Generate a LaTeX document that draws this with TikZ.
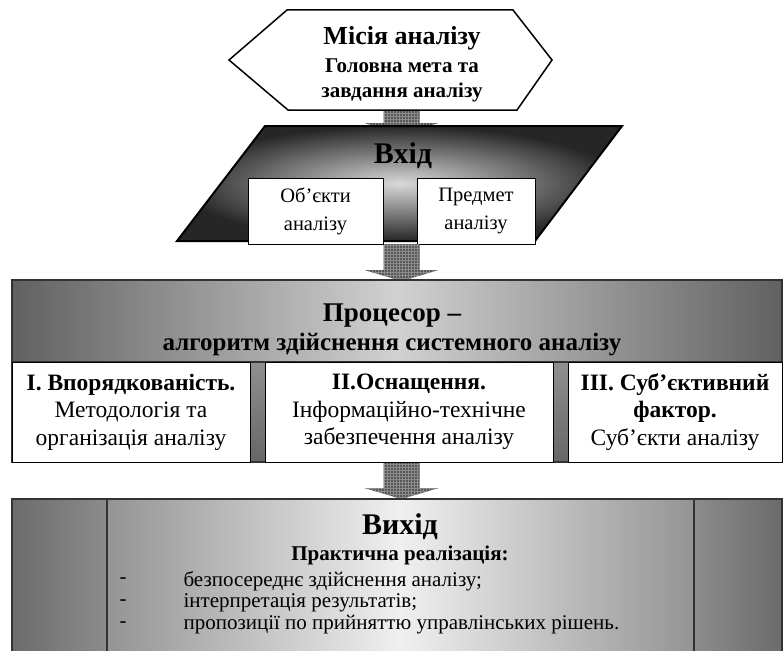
\documentclass[tikz,border=0pt]{standalone}
\usepackage{fontspec}
\setmainfont{Liberation Serif}
\usetikzlibrary{calc,patterns}

\tikzset{
  bigtitle/.style={font=\bfseries\fontsize{27}{29}\selectfont},
  subtitle/.style={font=\bfseries\fontsize{21}{25}\selectfont, align=center},
  bodytext/.style={font=\fontsize{21}{24}\selectfont, align=center},
  boxtext/.style={font=\fontsize{23.5}{27.5}\selectfont, align=center},
  whitebox/.style={draw=black, fill=white, line width=0.9pt, inner sep=0pt},
  frame/.style={draw=black!80, line width=1.2pt},
}

% block arrow from one point down to another
\newcommand{\blockarrow}[2]{%
  \path[preaction={fill=black!66}, pattern=grid, pattern color=black!45]
    let \p1=(#1), \p2=(#2) in
    (\x1-18pt,\y1) -- (\x1+18pt,\y1) -- (\x1+18pt,\y2+11pt) -- (\x1+37pt,\y2+11pt)
    -- (\x1,\y2) -- (\x1-37pt,\y2+11pt) -- (\x1-18pt,\y2+11pt) -- cycle;
}

\begin{document}
\begin{tikzpicture}[x=1pt,y=-1pt]
\useasboundingbox (0,0) rectangle (783,650);

% mission
\coordinate (misia-s) at (401.5,110);
\coordinate (vhid-n) at (401.5,134);
\blockarrow{misia-s}{vhid-n}
\draw[fill=white, line width=1.5pt] (229,60) -- (287,10) -- (513,10) -- (552,60) -- (517,110) -- (288,110) -- cycle;
\node[font=\bfseries\fontsize{26}{28}\selectfont] (misia) at (402,38) {Місія аналізу};
\node[subtitle] (meta) at (402,80) {Головна мета та\\завдання аналізу};

% input
\path[inner color=black!15, outer color=black!85, draw=black, line width=2pt]
  (265,126) -- (622,126) -- (535,241) -- (177,241) -- cycle;
\node[bigtitle, font=\bfseries\fontsize{30}{32}\selectfont] (vhid) at (403,156) {Вхід};
\node[whitebox, bodytext, font=\fontsize{20.5}{28}\selectfont, minimum width=135pt, minimum height=66pt] (obj) at (315.5,211) {Об’єкти\\аналізу};
\node[whitebox, bodytext, font=\fontsize{20.5}{28}\selectfont, minimum width=118pt, minimum height=66pt] (predm) at (476,211) {Предмет\\аналізу};
\coordinate (vhid-s) at (401.5,244);
\coordinate (proc-n) at (401.5,281);
\blockarrow{vhid-s}{proc-n}

% processor
\path[top color=black!30, bottom color=black!60] (12,280) rectangle (782,462);
\path[left color=black!62, right color=black!62, middle color=black!18] (12,280) rectangle (782,362);
\draw[frame] (12,280) rectangle (782,462);
\draw[frame] (12,362) -- (782,362);
\node[bigtitle] (proc) at (392,316) {Процесор –};
\node[font=\bfseries\fontsize{25}{27}\selectfont] (alg) at (392,345) {алгоритм здійснення системного аналізу};
\node[whitebox, minimum width=238pt, minimum height=100pt] (box1) at (131,412) {};
\node[whitebox, minimum width=288pt, minimum height=100pt] (box2) at (409,412) {};
\node[whitebox, minimum width=214pt, minimum height=100pt] (box3) at (675,412) {};
\node[boxtext] at (box1) {\textbf{I. Впорядкованість.}\\Методологія та\\організація аналізу};
\node[boxtext] at (box2) {\textbf{II.Оснащення.}\\Інформаційно-технічне\\забезпечення аналізу};
\node[boxtext] at (box3) {\textbf{III. Суб’єктивний}\\\textbf{фактор.}\\Суб’єкти аналізу};
\coordinate (proc-s) at (401.5,463);
\coordinate (vyhid-n) at (401.5,499);
\blockarrow{proc-s}{vyhid-n}

% output
\fill[left color=black!58, right color=black!45] (12,499) rectangle (107,652);
\fill[left color=black!45, right color=black!58] (694,499) rectangle (782,652);
\fill[left color=black!42, right color=black!42, middle color=black!6] (107,499) rectangle (694,652);
\draw[frame] (12,652) -- (12,499) -- (782,499) -- (782,652);
\draw[frame] (107,499) -- (107,652);
\draw[frame] (694,499) -- (694,652);
\node[font=\bfseries\fontsize{30}{32}\selectfont] (vyhid) at (400,527) {Вихід};
\node[subtitle] (prakt) at (400,555) {Практична реалізація:};
\node[bodytext, anchor=west] (b1) at (116,581) {-};
\node[bodytext, anchor=west] (b2) at (116,603) {-};
\node[bodytext, anchor=west] (b3) at (116,625) {-};
\node[bodytext, anchor=west] (t1) at (180,581) {безпосереднє здійснення аналізу;};
\node[bodytext, anchor=west] (t2) at (180,603) {інтерпретація результатів;};
\node[bodytext, anchor=west] (t3) at (180,625) {пропозиції по прийняттю управлінських рішень.};
\end{tikzpicture}
\end{document}
